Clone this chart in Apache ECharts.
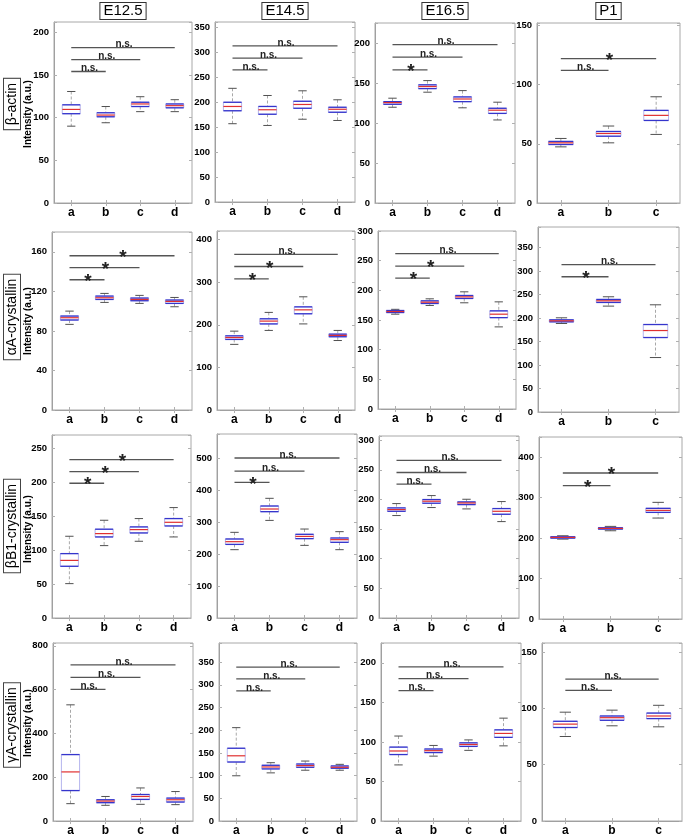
<!DOCTYPE html>
<html><head><meta charset="utf-8">
<script src="https://cdn.jsdelivr.net/npm/echarts@6/dist/echarts.min.js"></script>
<style>html,body{margin:0;padding:0;background:#fff}#c{width:683px;height:837px}</style>
</head><body><div id="c"></div>
<script>
// ---------- categories / labels ----------
const cats4 = ['a','b','c','d'];
const cats3 = ['a','b','c'];
const stageTitles = ['E12.5','E14.5','E16.5','P1'];
const rowLabels = ['β-actin','αA-crystallin','βB1-crystallin','γA-crystallin'];
const yTitle = 'Intensity (a.u.)';

// ---------- box data: [min, Q1, median, Q3, max] ----------
// β-actin
const actin_E125 = [[90,104.6,109.6,115,130.6],[94,101,103,105.7,113],[107,113,116,118,124.5],[107,111.5,114,116,121]];
const actin_E145 = [[157,183,191.6,200,228],[153.5,176,185,191.6,213.6],[166,188,195.6,202,223],[163.5,180,186,190,205]];
const actin_E165 = [[119.7,123.4,125.5,126.7,131],[138.5,143,145.6,147.7,153],[119,126.7,130,132.6,140.5],[103.8,112,116,118.4,126]];
const actin_P1   = [[47.4,49.4,50.8,52,54.5],[50.8,56.4,58.7,60.4,65],[57.9,69.7,74,78.2,89.7]];
// αA-crystallin
const aA_E125 = [[86.6,91,93.3,95,100],[108.8,111.8,113.5,115.2,117.9],[107.8,110.5,111.8,113.2,115.9],[104.4,107.8,109.8,111.2,113.8]];
const aA_E145 = [[154,165.6,170,174,185],[186.7,202,208.6,214,229],[202,225.8,235,242,265.6],[163,171.9,175,178,186.7]];
const aA_E165 = [[159.8,162.6,164.3,166,168],[174.5,177.8,180,182.3,185.7],[179,186.3,189,191.3,197.5],[138.4,154,159.8,165.4,180.6]];
const aA_P1   = [[188.5,192,194.2,196.3,200.6],[225.5,233.3,236.8,239.7,245.4],[116,158.6,173.5,186.3,228.3]];
// βB1-crystallin
const bB1_E125 = [[50.7,76.3,85,95,120.6],[106.8,119.6,124.5,131,144.2],[113.2,125.5,130.4,134.4,146.7],[119.6,135.8,141.2,146.7,162.9]];
const bB1_E145 = [[213.5,230,238.5,246.9,267.7],[305,332.3,340.6,350,374],[227,248,255,261.5,278],[213.5,236.5,244.8,250,269.8]];
const bB1_E165 = [[172.8,180,182.9,185.7,193],[186.3,193.6,197,199.8,206.5],[184,191.3,194,195.8,200.3],[162.6,175,180,184.6,196.4]];
const bB1_P1   = [[197.5,200,201.7,203.3,205.8],[218.2,222.3,224,225.6,229],[249.6,263.6,268.6,273.6,288.4]];
// γA-crystallin
const gA_E125 = [[79.2,139,224.2,303.4,530.6],[71.7,83.7,91,97,112],[76.2,98.6,112,121,151],[74.7,86.7,97,104.6,134.5]];
const gA_E145 = [[99.6,129.9,143.6,160.2,205.6],[106,114.7,119,122.7,128.4],[111.8,118.3,122,125.5,132],[111.8,116.2,118.3,121.2,124.8]];
const gA_E165 = [[70.9,84,88.5,93.4,107.4],[82,86.5,88.9,91,95.5],[89.3,94.3,96.7,98.8,102.5],[95,105.7,110.7,115.2,130]];
const gA_P1   = [[75,83,86,88.5,96.6],[84.5,89.4,91.7,93.2,98.4],[83.6,90.9,93.2,95.8,102.7]];

// ---------- significance brackets: [fromCat, toCat, value, label] ----------
const actin_E125_sig = [[0,3,182,'n.s.'],[0,2,168,'n.s.'],[0,1,154,'n.s.']];
const actin_E145_sig = [[0,3,313,'n.s.'],[0,2,288.5,'n.s.'],[0,1,265,'n.s.']];
const actin_E165_sig = [[0,3,198,'n.s.'],[0,2,182.4,'n.s.'],[0,1,166.5,'*']];
const actin_P1_sig   = [[0,2,122,'*'],[0,1,112,'n.s.']];
const aA_E125_sig = [[0,3,156,'*'],[0,2,144,'*'],[0,1,131.7,'*']];
const aA_E145_sig = [[0,3,365,'n.s.'],[0,2,336.7,'*'],[0,1,307.8,'*']];
const aA_E165_sig = [[0,3,261.7,'n.s.'],[0,2,240.8,'*'],[0,1,220.6,'*']];
const aA_P1_sig   = [[0,2,314,'n.s.'],[0,1,288,'*']];
const bB1_E125_sig = [[0,3,233.8,'*'],[0,2,216,'*'],[0,1,198.8,'*']];
const bB1_E145_sig = [[0,3,500,'n.s.'],[0,2,459,'n.s.'],[0,1,424,'*']];
const bB1_E165_sig = [[0,3,266,'n.s.'],[0,2,245.4,'n.s.'],[0,1,225.7,'n.s.']];
const bB1_P1_sig   = [[0,2,361,'*'],[0,1,329.8,'*']];
const gA_E125_sig = [[0,3,713,'n.s.'],[0,2,656,'n.s.'],[0,1,601,'n.s.']];
const gA_E145_sig = [[0,3,339,'n.s.'],[0,2,313,'n.s.'],[0,1,286.4,'n.s.']];
const gA_E165_sig = [[0,3,194.7,'n.s.'],[0,2,180,'n.s.'],[0,1,164.8,'n.s.']];
const gA_P1_sig   = [[0,2,126,'n.s.'],[0,1,116,'n.s.']];

// ---------- axis ranges: [max, interval] ----------
const axisRanges = [
  [[212,50],[361,50],[225,50],[152,50]],
  [[180,40],[420,100],[300,50],[394,50]],
  [[270,50],[575,100],[307,50],[450,100]],
  [[813,200],[392,50],[225,50],[158,50]]
];

// ---------- layout (px): [left, top, width, height] ----------
const layout = [
  [[54,22,138,181],[215,22,140,180],[375,23,140,180],[537,23,143,180]],
  [[52,232,140,178],[217,231,138,179],[378,231,138,178],[538,227,141,185]],
  [[52,435,139,183],[217,434,140,184],[379,436,140,182],[539,437,143,182]],
  [[53,643,140,181],[219,643,138,181],[381,643,140,183],[542,643,140,183]]
];

const boxes = [
  [actin_E125, actin_E145, actin_E165, actin_P1],
  [aA_E125, aA_E145, aA_E165, aA_P1],
  [bB1_E125, bB1_E145, bB1_E165, bB1_P1],
  [gA_E125, gA_E145, gA_E165, gA_P1]
];
const sigs = [
  [actin_E125_sig, actin_E145_sig, actin_E165_sig, actin_P1_sig],
  [aA_E125_sig, aA_E145_sig, aA_E165_sig, aA_P1_sig],
  [bB1_E125_sig, bB1_E145_sig, bB1_E165_sig, bB1_P1_sig],
  [gA_E125_sig, gA_E145_sig, gA_E165_sig, gA_P1_sig]
];

const FONT = 'Liberation Sans';

function boxRender(params, api) {
  const x = api.value(0);
  const lo = api.coord([x, api.value(1)]);
  const q1 = api.coord([x, api.value(2)]);
  const md = api.coord([x, api.value(3)]);
  const q3 = api.coord([x, api.value(4)]);
  const hi = api.coord([x, api.value(5)]);
  const bw = api.size([1, 0])[0];
  const hw = bw * 0.26, cw = bw * 0.12;
  const cx = lo[0];
  const L = (x1, y1, x2, y2, style) => ({type: 'line', shape: {x1, y1, x2, y2}, style});
  return {
    type: 'group',
    children: [
      L(cx, hi[1], cx, q3[1], {stroke: '#a8a8a8', lineWidth: 1, lineDash: [3, 2]}),
      L(cx, q1[1], cx, lo[1], {stroke: '#a8a8a8', lineWidth: 1, lineDash: [3, 2]}),
      L(cx - cw, hi[1], cx + cw, hi[1], {stroke: '#505050', lineWidth: 1}),
      L(cx - cw, lo[1], cx + cw, lo[1], {stroke: '#505050', lineWidth: 1}),
      {type: 'rect', shape: {x: cx - hw, y: q3[1], width: 2 * hw, height: q1[1] - q3[1]},
       style: {fill: '#fff', stroke: '#b4b4ee', lineWidth: 1}},
      L(cx - hw, q3[1], cx + hw, q3[1], {stroke: '#3535cc', lineWidth: 1.3}),
      L(cx - hw, q1[1], cx + hw, q1[1], {stroke: '#3535cc', lineWidth: 1.3}),
      L(cx - hw, md[1], cx + hw, md[1], {stroke: '#e03030', lineWidth: 1.2})
    ]
  };
}

function sigRenderFactory(arr) {
  return function (params, api) {
    const s = arr[params.dataIndex];
    const p1 = api.coord([s[0], s[2]]);
    const p2 = api.coord([s[1], s[2]]);
    const star = s[3] === '*';
    return {
      type: 'group',
      children: [
        {type: 'line', shape: {x1: p1[0], y1: p1[1], x2: p2[0], y2: p2[1]},
         style: {stroke: '#555', lineWidth: 1.3}},
        {type: 'text', style: {
          text: s[3], x: (p1[0] + p2[0]) / 2 + 1, y: p1[1] + 2,
          align: 'center', verticalAlign: star ? 'middle' : 'bottom',
          font: star ? 'bold 19px ' + FONT : 'bold 10px ' + FONT, fill: '#222'}}
      ]
    };
  };
}

const grid = [], xAxis = [], yAxis = [], series = [];
let k = 0;
for (let r = 0; r < 4; r++) {
  for (let c = 0; c < 4; c++) {
    const [left, top, width, height] = layout[r][c];
    const [max, interval] = axisRanges[r][c];
    const cats = c === 3 ? cats3 : cats4;
    grid.push({left, top, width, height, show: true, borderColor: '#a8a8a8', borderWidth: 1, containLabel: false});
    xAxis.push({gridIndex: k, type: 'category', data: cats, boundaryGap: true, position: 'bottom',
      axisLine: {show: true, lineStyle: {color: '#a0a0a0'}},
      axisTick: {show: true, inside: true, alignWithLabel: true, length: 3, lineStyle: {color: '#b0b0b0'}},
      axisLabel: {color: '#000', fontWeight: 'bold', fontSize: 12, fontFamily: FONT, margin: 4},
      splitLine: {show: false}});
    xAxis.push({gridIndex: k, type: 'category', data: cats, boundaryGap: true, position: 'top',
      axisLine: {show: false},
      axisTick: {show: true, inside: true, alignWithLabel: true, length: 3, lineStyle: {color: '#b0b0b0'}},
      axisLabel: {show: false}, splitLine: {show: false}});
    yAxis.push({gridIndex: k, type: 'value', min: 0, max, interval, position: 'left',
      axisLine: {show: true, lineStyle: {color: '#a0a0a0'}},
      axisTick: {show: true, inside: true, length: 3, lineStyle: {color: '#b0b0b0'}},
      axisLabel: {color: '#000', fontWeight: 'bold', fontSize: 9.5, fontFamily: FONT, margin: 5, showMaxLabel: true,
        formatter: v => (Math.abs(v % interval) < 1e-6 ? String(v) : '')},
      splitLine: {show: false}});
    yAxis.push({gridIndex: k, type: 'value', min: 0, max, interval, position: 'right',
      axisLine: {show: false},
      axisTick: {show: true, inside: true, length: 3, lineStyle: {color: '#b0b0b0'}},
      axisLabel: {show: false}, splitLine: {show: false}});
    const bdata = boxes[r][c].map((v, i) => [i].concat(v));
    series.push({type: 'custom', xAxisIndex: 2 * k, yAxisIndex: 2 * k, renderItem: boxRender,
      data: bdata, encode: {x: 0, y: [1, 2, 3, 4, 5]}, silent: true, animation: false, clip: false});
    const sarr = sigs[r][c];
    series.push({type: 'custom', xAxisIndex: 2 * k, yAxisIndex: 2 * k, renderItem: sigRenderFactory(sarr),
      data: sarr.map(s => [s[0], s[1], s[2]]), encode: {x: [0, 1], y: 2}, silent: true, animation: false, clip: false});
    k++;
  }
}

// graphic texts: stage titles, row labels, y titles
const graphic = [];
for (let c = 0; c < 4; c++) {
  const [left, , width] = layout[0][c];
  graphic.push({type: 'text', x: left + width / 2, y: 11, style: {
    text: stageTitles[c], font: '15px ' + FONT, fill: '#000', align: 'center', verticalAlign: 'middle',
    borderColor: '#333', borderWidth: 1, padding: [1, 3, 0, 3], backgroundColor: '#fff'}});
}
const rowCenters = [104, 317, 526, 725];
const yTitleCenters = [114, 321, 529, 723];
for (let r = 0; r < 4; r++) {
  graphic.push({type: 'text', x: 12, y: rowCenters[r], rotation: Math.PI / 2, style: {
    text: rowLabels[r], font: '14px ' + FONT, fill: '#000', align: 'center', verticalAlign: 'middle',
    borderColor: '#444', borderWidth: 1, padding: [1, 4, 1, 4], backgroundColor: '#fff'}});
  graphic.push({type: 'text', x: 28, y: yTitleCenters[r], rotation: Math.PI / 2, style: {
    text: yTitle, font: 'bold 10px ' + FONT, fill: '#000', align: 'center', verticalAlign: 'middle'}});
}

const chart = echarts.init(document.getElementById('c'), null, {renderer: 'canvas'});
chart.setOption({
  animation: false,
  backgroundColor: '#fff',
  textStyle: {fontFamily: FONT},
  grid, xAxis, yAxis, series, graphic
});
</script></body></html>
